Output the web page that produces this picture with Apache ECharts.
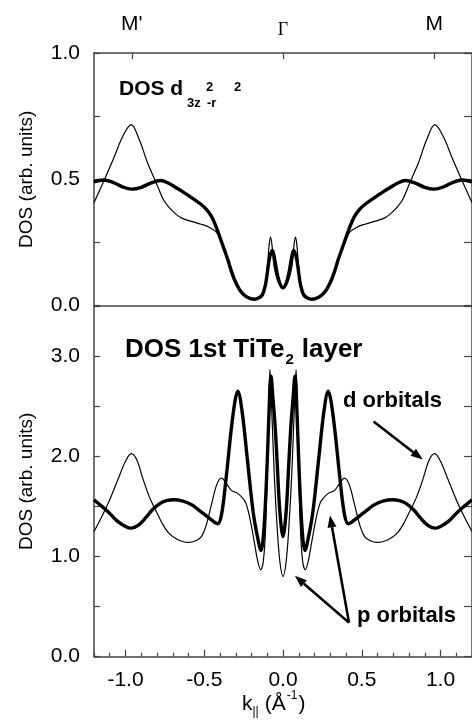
<!DOCTYPE html>
<html>
<head>
<meta charset="utf-8">
<title>DOS TiTe2</title>
<script src="https://cdn.jsdelivr.net/npm/echarts@6/dist/echarts.min.js"></script>
<style>
  html, body { margin: 0; padding: 0; background: #fff; }
  #chart { width: 472px; height: 724px; }
</style>
</head>
<body>
<div id="chart"></div>
<script>
// upper panel: DOS d3z2-r2, thin and thick curves
const dzThinK = [-1.2, -1.14, -1.079, -1.017, -0.964, -0.912, -0.86, -0.808, -0.76, -0.725, -0.68, -0.64, -0.58, -0.52, -0.47, -0.42, -0.38, -0.35, -0.31, -0.27, -0.22, -0.183, -0.14, -0.115, -0.1, -0.088, -0.079, -0.07, -0.058, -0.04, -0.02, 0,
  0.02, 0.04, 0.058, 0.07, 0.079, 0.088, 0.1, 0.115, 0.14, 0.183, 0.22, 0.27, 0.31, 0.35, 0.38, 0.42, 0.47, 0.52, 0.58, 0.64, 0.68, 0.725, 0.76, 0.808, 0.86, 0.912, 0.964, 1.017, 1.079, 1.14, 1.2];
const dzThinV = [0.407, 0.49, 0.577, 0.67, 0.716, 0.656, 0.565, 0.49, 0.42, 0.39, 0.362, 0.345, 0.333, 0.322, 0.31, 0.288, 0.23, 0.181, 0.105, 0.057, 0.032, 0.025, 0.04, 0.08, 0.15, 0.24, 0.271, 0.24, 0.16, 0.11, 0.08, 0.07,
  0.08, 0.11, 0.16, 0.24, 0.271, 0.24, 0.15, 0.08, 0.04, 0.025, 0.032, 0.057, 0.105, 0.181, 0.23, 0.288, 0.31, 0.322, 0.333, 0.345, 0.362, 0.39, 0.42, 0.49, 0.565, 0.656, 0.716, 0.67, 0.577, 0.49, 0.407];

const dzThickK = [-1.2, -1.14, -1.08, -1.02, -0.96, -0.9, -0.84, -0.777, -0.72, -0.683, -0.64, -0.6, -0.56, -0.517, -0.485, -0.454, -0.43, -0.402, -0.375, -0.35, -0.33, -0.308, -0.287, -0.267, -0.24, -0.21, -0.183, -0.155, -0.131, -0.112, -0.1, -0.085, -0.067, -0.052, -0.0375, -0.02, 0,
  0.02, 0.0375, 0.052, 0.067, 0.085, 0.1, 0.112, 0.131, 0.155, 0.183, 0.21, 0.24, 0.267, 0.287, 0.308, 0.33, 0.35, 0.375, 0.402, 0.43, 0.454, 0.485, 0.517, 0.56, 0.6, 0.64, 0.683, 0.72, 0.777, 0.84, 0.9, 0.96, 1.02, 1.08, 1.14, 1.2];
const dzThickV = [0.49, 0.497, 0.488, 0.47, 0.461, 0.468, 0.485, 0.495, 0.482, 0.468, 0.452, 0.435, 0.418, 0.399, 0.38, 0.353, 0.32, 0.273, 0.225, 0.181, 0.14, 0.102, 0.075, 0.055, 0.038, 0.028, 0.025, 0.03, 0.042, 0.08, 0.128, 0.19, 0.218, 0.18, 0.128, 0.088, 0.07,
  0.088, 0.128, 0.18, 0.218, 0.19, 0.128, 0.08, 0.042, 0.03, 0.025, 0.028, 0.038, 0.055, 0.075, 0.102, 0.14, 0.181, 0.225, 0.273, 0.32, 0.353, 0.38, 0.399, 0.418, 0.435, 0.452, 0.468, 0.482, 0.495, 0.485, 0.468, 0.461, 0.47, 0.488, 0.497, 0.49];

// lower panel: DOS 1st TiTe2 layer
const layerThinK = [-1.2, -1.15, -1.1, -1.05, -1.0, -0.964, -0.93, -0.8875, -0.85, -0.81, -0.77, -0.725, -0.67, -0.6, -0.55, -0.517, -0.49, -0.454, -0.42, -0.39, -0.36, -0.3275, -0.2875, -0.255, -0.235, -0.21, -0.183, -0.16, -0.142, -0.125, -0.11, -0.095, -0.083, -0.07, -0.055, -0.0375, -0.02, 0,
  0.02, 0.0375, 0.055, 0.07, 0.083, 0.095, 0.11, 0.125, 0.142, 0.16, 0.183, 0.21, 0.235, 0.255, 0.2875, 0.3275, 0.36, 0.39, 0.42, 0.454, 0.49, 0.517, 0.55, 0.6, 0.67, 0.725, 0.77, 0.81, 0.85, 0.8875, 0.93, 0.964, 1.0, 1.05, 1.1, 1.15, 1.2];
const layerThinV = [1.25, 1.4, 1.567, 1.76, 1.95, 2.027, 1.97, 1.767, 1.6, 1.467, 1.34, 1.233, 1.17, 1.14, 1.16, 1.2, 1.3, 1.52, 1.72, 1.783, 1.73, 1.66, 1.63, 1.58, 1.53, 1.38, 1.15, 0.95, 0.867, 0.95, 1.3, 2.2, 2.867, 2.4, 1.8, 1.3, 0.95, 0.8,
  0.95, 1.3, 1.8, 2.4, 2.867, 2.2, 1.3, 0.95, 0.867, 0.95, 1.15, 1.38, 1.53, 1.58, 1.63, 1.66, 1.73, 1.783, 1.72, 1.52, 1.3, 1.2, 1.16, 1.14, 1.17, 1.233, 1.34, 1.467, 1.6, 1.767, 1.97, 2.027, 1.95, 1.76, 1.567, 1.4, 1.25];

const layerThickK = [-1.2, -1.15, -1.1, -1.05, -1.0, -0.964, -0.92, -0.87, -0.829, -0.78, -0.74, -0.694, -0.64, -0.58, -0.54, -0.496, -0.45, -0.415, -0.39, -0.36, -0.33, -0.305, -0.2875, -0.26, -0.225, -0.19, -0.1625, -0.14, -0.12, -0.1, -0.085, -0.076, -0.065, -0.05, -0.0375, -0.02, 0,
  0.02, 0.0375, 0.05, 0.065, 0.076, 0.085, 0.1, 0.12, 0.14, 0.1625, 0.19, 0.225, 0.26, 0.2875, 0.305, 0.33, 0.36, 0.39, 0.415, 0.45, 0.496, 0.54, 0.58, 0.64, 0.694, 0.74, 0.78, 0.829, 0.87, 0.92, 0.964, 1.0, 1.05, 1.1, 1.15, 1.2];
const layerThickV = [1.567, 1.5, 1.43, 1.35, 1.3, 1.283, 1.31, 1.39, 1.467, 1.53, 1.558, 1.567, 1.555, 1.517, 1.47, 1.417, 1.36, 1.327, 1.42, 1.8, 2.25, 2.55, 2.65, 2.45, 1.95, 1.45, 1.2, 1.06, 1.3, 1.95, 2.6, 2.8, 2.6, 2.3, 1.95, 1.45, 1.2,
  1.45, 1.95, 2.3, 2.6, 2.8, 2.6, 1.95, 1.3, 1.06, 1.2, 1.45, 1.95, 2.45, 2.65, 2.55, 2.25, 1.8, 1.42, 1.327, 1.36, 1.417, 1.47, 1.517, 1.555, 1.567, 1.558, 1.53, 1.467, 1.39, 1.31, 1.283, 1.3, 1.35, 1.43, 1.5, 1.567];

// tick values
const symPointK = [-0.96, 0, 0.96];
const symPointNames = ["M'", '{g|Γ}', 'M'];
const kMajor = [-1.0, -0.5, 0, 0.5, 1.0];
const kMinor = [-1.2, -1.1, -0.9, -0.8, -0.7, -0.6, -0.4, -0.3, -0.2, -0.1, 0.1, 0.2, 0.3, 0.4, 0.6, 0.7, 0.8, 0.9, 1.1, 1.2];

const FONT = 'Liberation Sans, Arial, sans-serif';
const AXIS_COLOR = '#444';

function pairs(ks, vs) {
  return ks.map((k, i) => [k, vs[i]]);
}

function curve(name, ks, vs, width, xIdx, yIdx) {
  return {
    name: name,
    type: 'line',
    xAxisIndex: xIdx,
    yAxisIndex: yIdx,
    data: pairs(ks, vs),
    smooth: 0.35,
    showSymbol: false,
    lineStyle: { color: '#000', width: width },
    z: width > 2 ? 3 : 2
  };
}

const chart = echarts.init(document.getElementById('chart'));

const tickLabel = { color: '#000', fontSize: 21, fontFamily: FONT };
const axisLine = { show: true, onZero: false, lineStyle: { color: AXIS_COLOR, width: 1.5 } };
const tickStyle = { color: AXIS_COLOR, width: 1.2 };

const option = {
  animation: false,
  backgroundColor: '#fff',
  grid: [
    { left: 94, top: 53, width: 384, height: 252.5 },
    { left: 94, top: 306, width: 384, height: 350.7 }
  ],
  xAxis: [
    { // 0: divider under the upper panel
      gridIndex: 0, type: 'value', min: -1.2, max: 1.2, position: 'bottom',
      axisLine: axisLine, axisTick: { show: false }, axisLabel: { show: false }, splitLine: { show: false }
    },
    { // 1: high symmetry points on top
      gridIndex: 0, type: 'value', min: -1.2, max: 1.2, position: 'top',
      axisLine: axisLine,
      axisTick: { inside: true, length: 6, customValues: symPointK, lineStyle: tickStyle },
      axisLabel: {
        customValues: symPointK, margin: 18, color: '#000', fontSize: 21, fontFamily: FONT,
        formatter: v => symPointNames[symPointK.indexOf(v)],
        rich: { g: { fontFamily: 'Liberation Serif, serif', fontSize: 18, lineHeight: 10, color: '#000' } }
      },
      splitLine: { show: false }
    },
    { // 2: k axis of the lower panel
      gridIndex: 1, type: 'value', min: -1.2, max: 1.2, position: 'bottom',
      axisLine: axisLine,
      axisTick: { inside: true, length: 7, customValues: kMajor, lineStyle: tickStyle },
      axisLabel: Object.assign({ customValues: kMajor, margin: 13, formatter: v => v.toFixed(1) }, tickLabel),
      splitLine: { show: false }
    },
    { // 3: minor k ticks
      gridIndex: 1, type: 'value', min: -1.2, max: 1.2, position: 'bottom',
      axisLine: { show: false, onZero: false },
      axisTick: { inside: true, length: 4, customValues: kMinor, lineStyle: tickStyle },
      axisLabel: { show: false }, splitLine: { show: false }
    }
  ],
  yAxis: [
    {
      gridIndex: 0, type: 'value', min: 0, max: 1, interval: 0.25, position: 'left',
      axisLine: axisLine,
      axisTick: { inside: true, length: 6, lineStyle: tickStyle },
      axisLabel: Object.assign({ margin: 14, formatter: v => (v * 2) % 1 === 0 ? v.toFixed(1) : '' }, tickLabel),
      splitLine: { show: false },
      name: 'DOS (arb. units)', nameLocation: 'middle', nameGap: 58,
      nameTextStyle: { color: '#000', fontSize: 19, fontFamily: FONT }
    },
    {
      gridIndex: 0, type: 'value', min: 0, max: 1, interval: 0.25, position: 'right',
      axisLine: axisLine,
      axisTick: { inside: true, length: 8, lineStyle: tickStyle },
      axisLabel: { show: false }, splitLine: { show: false }
    },
    {
      gridIndex: 1, type: 'value', min: 0, max: 3.5, interval: 0.5, position: 'left',
      axisLine: axisLine,
      axisTick: { inside: true, length: 6, lineStyle: tickStyle },
      axisLabel: Object.assign({ margin: 14, formatter: v => v % 1 === 0 ? v.toFixed(1) : '' }, tickLabel),
      splitLine: { show: false },
      name: 'DOS (arb. units)', nameLocation: 'middle', nameGap: 58,
      nameTextStyle: { color: '#000', fontSize: 19, fontFamily: FONT }
    },
    {
      gridIndex: 1, type: 'value', min: 0, max: 3.5, interval: 0.5, position: 'right',
      axisLine: axisLine,
      axisTick: { inside: true, length: 8, lineStyle: tickStyle },
      axisLabel: { show: false }, splitLine: { show: false }
    }
  ],
  series: [
    curve('d3z2-r2 thin', dzThinK, dzThinV, 1.2, 0, 0),
    curve('d3z2-r2 thick', dzThickK, dzThickV, 3.4, 0, 0),
    curve('layer thin', layerThinK, layerThinV, 1.2, 2, 2),
    curve('layer thick', layerThickK, layerThickV, 3.4, 2, 2)
  ]
};

chart.setOption(option);

// ---- annotations ----
const measure = document.createElement('canvas').getContext('2d');
function textWidth(str, font) {
  measure.font = font;
  return measure.measureText(str).width;
}

function label(str, x, y, size, bold) {
  return {
    type: 'text', x: x, y: y, silent: true,
    style: {
      text: str, fill: '#000', verticalAlign: 'middle', align: 'left',
      font: (bold ? 'bold ' : '') + size + 'px ' + FONT
    }
  };
}

// sequence of text pieces, each [text, size, dy, gapAfter]
function textRun(pieces, x0, y0, bold) {
  let x = x0;
  const out = [];
  pieces.forEach(p => {
    out.push(label(p[0], x, y0 + p[2], p[1], bold));
    x += textWidth(p[0], (bold ? 'bold ' : '') + p[1] + 'px ' + FONT) + (p[3] || 0);
  });
  return out;
}

function lowerPx(k, v) {
  return chart.convertToPixel({ xAxisIndex: 2, yAxisIndex: 2 }, [k, v]);
}

function arrow(fromK, fromV, toK, toV) {
  const a = lowerPx(fromK, fromV);
  const b = lowerPx(toK, toV);
  const dx = b[0] - a[0], dy = b[1] - a[1];
  const len = Math.sqrt(dx * dx + dy * dy);
  const ux = dx / len, uy = dy / len;
  const head = 12, half = 4.5;
  const bx = b[0] - ux * head, by = b[1] - uy * head;
  return [
    { type: 'line', silent: true, shape: { x1: a[0], y1: a[1], x2: bx, y2: by }, style: { stroke: '#000', lineWidth: 2.6 } },
    { type: 'polygon', silent: true, shape: { points: [[b[0], b[1]], [bx - uy * half, by + ux * half], [bx + uy * half, by - ux * half]] }, style: { fill: '#000' } }
  ];
}

let graphics = [];
// upper panel title: DOS d_3z^2_-r^2
graphics.push(label('DOS d', 119, 89.5, 21, true));
graphics.push(label('3z', 187, 103.5, 13, true));
graphics.push(label('2', 206, 87.5, 13, true));
graphics.push(label('-r', 207, 103.5, 13, true));
graphics.push(label('2', 234, 87.5, 13, true));

// lower panel title
graphics = graphics.concat(textRun([['DOS 1st TiTe', 26, 0, 1], ['2', 15, 10, 8], ['layer', 26, 0]], 125, 349.5, true));

graphics.push(label('d orbitals', 343, 400.5, 22, true));
graphics.push(label('p orbitals', 357, 615.5, 22, true));

// x axis title: k_|| (Å^-1)
graphics = graphics.concat(textRun([['k', 21, 0], ['||', 12, 8, 6], ['(Å', 21, 0, 1], ['-1', 12, -8, 1], [')', 21, 0]], 242, 704, false));

graphics = graphics.concat(arrow(0.575, 2.347, 0.8875, 1.967));
graphics = graphics.concat(arrow(0.419, 0.34, 0.075, 0.807));
graphics = graphics.concat(arrow(0.419, 0.34, 0.298, 1.41));

chart.setOption({ graphic: graphics });
</script>
</body>
</html>
